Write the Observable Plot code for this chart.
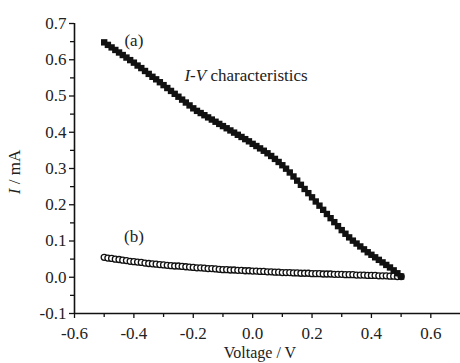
<!DOCTYPE html>
<html><head><meta charset="utf-8">
<script src="https://cdn.jsdelivr.net/npm/d3@7"></script>
<script src="https://cdn.jsdelivr.net/npm/@observablehq/plot@0.6"></script>
<style>html,body{margin:0;padding:0;background:#fff} svg{display:block}</style>
</head><body><div id="chart"></div>
<script>
const voltage = [-0.5,-0.4875,-0.475,-0.4625,-0.45,-0.4375,-0.425,-0.4125,-0.4,-0.3875,-0.375,-0.3625,-0.35,-0.3375,-0.325,-0.3125,-0.3,-0.2875,-0.275,-0.2625,-0.25,-0.2375,-0.225,-0.2125,-0.2,-0.1875,-0.175,-0.1625,-0.15,-0.1375,-0.125,-0.1125,-0.1,-0.0875,-0.075,-0.0625,-0.05,-0.0375,-0.025,-0.0125,0,0.0125,0.025,0.0375,0.05,0.0625,0.075,0.0875,0.1,0.1125,0.125,0.1375,0.15,0.1625,0.175,0.1875,0.2,0.2125,0.225,0.2375,0.25,0.2625,0.275,0.2875,0.3,0.3125,0.325,0.3375,0.35,0.3625,0.375,0.3875,0.4,0.4125,0.425,0.4375,0.45,0.4625,0.475,0.4875,0.5];
const currentA = [0.648,0.641,0.634,0.627,0.620,0.613,0.606,0.599,0.592,0.584,0.577,0.569,0.561,0.553,0.546,0.538,0.530,0.522,0.514,0.506,0.498,0.490,0.482,0.474,0.466,0.459,0.453,0.447,0.441,0.435,0.429,0.423,0.417,0.411,0.405,0.399,0.393,0.387,0.381,0.375,0.368,0.362,0.3555,0.349,0.342,0.3345,0.3265,0.318,0.309,0.2995,0.289,0.278,0.2665,0.255,0.2435,0.232,0.2205,0.209,0.1975,0.186,0.1745,0.163,0.152,0.141,0.130,0.120,0.110,0.101,0.093,0.085,0.077,0.069,0.062,0.055,0.048,0.041,0.034,0.027,0.019,0.011,0.002];
const currentB = [0.055,0.053,0.052,0.050,0.049,0.047,0.046,0.044,0.043,0.042,0.041,0.039,0.038,0.037,0.036,0.035,0.034,0.033,0.032,0.031,0.031,0.030,0.029,0.028,0.027,0.026,0.026,0.025,0.024,0.024,0.023,0.022,0.021,0.021,0.020,0.020,0.019,0.019,0.018,0.018,0.017,0.017,0.016,0.016,0.015,0.015,0.014,0.014,0.013,0.013,0.013,0.012,0.012,0.011,0.011,0.011,0.010,0.010,0.010,0.009,0.009,0.009,0.008,0.008,0.008,0.007,0.007,0.007,0.006,0.006,0.006,0.005,0.005,0.005,0.004,0.004,0.004,0.003,0.003,0.002,0.002];
const xTicks = [-0.6,-0.4,-0.2,0,0.2,0.4,0.6];
const xMinorTicks = [-0.5,-0.3,-0.1,0.1,0.3,0.5];
const yTicks = [-0.1,0,0.1,0.2,0.3,0.4,0.5,0.6,0.7];
const yMinorTicks = [-0.05,0.05,0.15,0.25,0.35,0.45,0.55,0.65];
const seriesLabels = ["(a)","(b)"];
const labelV = [-0.40,-0.40];
const labelI = [0.652,0.112];

const rowsA = voltage.map((v, k) => ({v, i: currentA[k]}));
const rowsB = voltage.map((v, k) => ({v, i: currentB[k]}));
const labels = seriesLabels.map((t, k) => ({t, v: labelV[k], i: labelI[k]}));

const FONT = "'Liberation Serif', 'Times New Roman', serif";
const plot = Plot.plot({
  width: 460, height: 363,
  marginLeft: 74, marginRight: 0, marginTop: 23, marginBottom: 50,
  style: {fontSize: "17px", color: "#222", background: "#fff"},
  x: {domain: [-0.6, 0.7]},
  y: {domain: [-0.1, 0.7]},
  marks: [
    Plot.axisX(xTicks, {tickSize: 5, tickPadding: 8, tickFormat: d => d.toFixed(1), label: null, stroke: "#111", strokeWidth: 1.3, fontSize: 17, fill: "#222"}),
    Plot.axisX(xMinorTicks, {tickSize: 4, tickFormat: () => "", label: null, stroke: "#111", strokeWidth: 1.3}),
    Plot.axisY(yTicks, {tickSize: 5, tickPadding: 3, tickFormat: d => d.toFixed(1), label: null, stroke: "#111", strokeWidth: 1.3, fontSize: 17, fill: "#222"}),
    Plot.axisY(yMinorTicks, {tickSize: 4, tickFormat: () => "", label: null, stroke: "#111", strokeWidth: 1.3}),
    Plot.ruleY([-0.1], {stroke: "#111", strokeWidth: 1.6}),
    Plot.ruleX([-0.6], {stroke: "#111", strokeWidth: 1.6}),
    Plot.dot(rowsB, {x: "v", y: "i", r: 3, stroke: "#111", strokeWidth: 1.3, fill: "white"}),
    Plot.dot(rowsA, {x: "v", y: "i", symbol: "square", r: 3.6, fill: "#111", stroke: "none"}),
    Plot.text(labels, {x: "v", y: "i", text: "t", fontSize: 17, fill: "#222"})
  ]
});
document.getElementById("chart").appendChild(plot);

const svg = d3.select(plot);
const sx = plot.scale("x"), sy = plot.scale("y");
// I-V characteristics annotation
const ann = svg.append("text")
  .attr("x", sx.apply(-0.228)).attr("y", sy.apply(0.557) + 6)
  .attr("text-anchor", "start")
  .attr("font-size", 17).attr("fill", "#222");
ann.append("tspan").attr("font-style", "italic").text("I-V");
ann.append("tspan").text(" characteristics");
// y axis title
const yl = svg.append("text")
  .attr("transform", "translate(20,172) rotate(-90)")
  .attr("text-anchor", "middle")
  .attr("font-size", 17).attr("fill", "#222");
yl.append("tspan").attr("font-style", "italic").text("I");
yl.append("tspan").text(" / mA");
// x axis title
svg.append("text")
  .attr("x", 260).attr("y", 358)
  .attr("text-anchor", "middle")
  .attr("font-size", 16).attr("fill", "#222")
  .text("Voltage / V");
// force the serif face on every text, without tabular-number features
svg.style("font-family", FONT);
svg.selectAll("text, g").style("font-family", FONT).style("font-variant", "normal").style("font-variant-numeric", "normal");
</script>
</body></html>
